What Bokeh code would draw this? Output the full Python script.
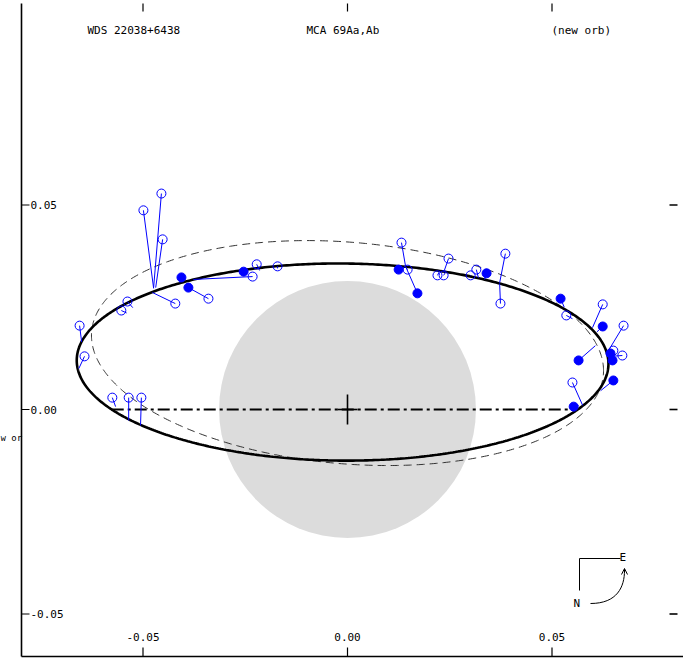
import numpy as np
from bokeh.plotting import figure
from bokeh.models import Range1d, Label, Arrow, OpenHead
from bokeh.core.properties import value
from bokeh.embed import file_html
from bokeh.resources import INLINE

# ---------------- data ----------------
title_left = "WDS 22038+6438"
title_mid = "MCA  69Aa,Ab"
title_right = "(new orb)"
side_text = "w or"

x_ticks = [-0.05, 0.00, 0.05]
x_tick_labels = ["-0.05", "0.00", "0.05"]
y_ticks = [0.05, 0.00, -0.05]
y_tick_labels = ["0.05", "0.00", "-0.05"]

# apparent ellipse of new orbit: centre, half-width, tilt term, half-height
new_orbit = dict(cx=-0.0012, cy=0.0116, xhalf=0.0650, q=-0.0004, yhalf=0.0241)
# apparent ellipse of previous orbit
old_orbit = dict(cx=0.0000, cy=0.0138, xhalf=0.0626, q=-0.0043, yhalf=0.0275)

resolution_radius = 0.0314

# open symbols: observed position and computed position
open_x = [-0.0655, -0.0643, -0.0575, -0.0535, -0.0504, -0.0455, -0.0499, -0.0452,
          -0.0421, -0.0340, -0.0538, -0.0553, -0.0232, -0.0222, -0.0171,
          0.0132, 0.0147, 0.0247, 0.0220, 0.0235, 0.0315, 0.0301, 0.0386, 0.0374,
          0.0535, 0.0624, 0.0675, 0.0650, 0.0672, 0.0550]
open_y = [0.0205, 0.0130, 0.0029, 0.0029, 0.0029, 0.0528, 0.0487, 0.0416,
          0.0259, 0.0271, 0.0264, 0.0242, 0.0325, 0.0355, 0.0350,
          0.0408, 0.0342, 0.0369, 0.0328, 0.0328, 0.0342, 0.0328, 0.0381, 0.0259,
          0.0230, 0.0257, 0.0205, 0.0144, 0.0132, 0.0066]
open_cx = [-0.0650, -0.0657, -0.0567, -0.0535, -0.0506, -0.0474, -0.0474, -0.0469,
           -0.0477, -0.0389, -0.0525, -0.0540, -0.0377, -0.0215, -0.0171,
           0.0142, 0.0142, 0.0235, 0.0225, 0.0240, 0.0320, 0.0300, 0.0372, 0.0372,
           0.0550, 0.0599, 0.0638, 0.0640, 0.0643, 0.0575]
open_cy = [0.0165, 0.0100, 0.0007, -0.0027, -0.0039, 0.0298, 0.0296, 0.0298,
           0.0286, 0.0298, 0.0249, 0.0236, 0.0318, 0.0340, 0.0345,
           0.0350, 0.0348, 0.0335, 0.0338, 0.0336, 0.0322, 0.0326, 0.0310, 0.0308,
           0.0222, 0.0200, 0.0144, 0.0140, 0.0130, 0.0010]

# filled symbols: observed position and computed position
fill_x = [-0.0406, -0.0389, -0.0254, 0.0171, 0.0125, 0.0340, 0.0521, 0.0624,
          0.0565, 0.0643, 0.0648, 0.0650, 0.0553]
fill_y = [0.0323, 0.0298, 0.0337, 0.0284, 0.0342, 0.0333, 0.0271, 0.0203,
          0.0120, 0.0137, 0.0120, 0.0071, 0.0007]
fill_cx = [-0.0410, -0.0395, -0.0254, 0.0142, 0.0128, 0.0335, 0.0530, 0.0610,
           0.0606, 0.0645, 0.0645, 0.0619, 0.0565]
fill_cy = [0.0310, 0.0305, 0.0336, 0.0350, 0.0351, 0.0318, 0.0250, 0.0190,
           0.0156, 0.0125, 0.0110, 0.0046, 0.0010]

# ---------------- layout ----------------
PX = 4090.0            # pixels per arcsec
W, H = 683, 659
OX, OY = 347, 409      # pixel position of the origin
x0 = -OX / PX
x1 = x0 + W / PX
y1 = OY / PX
y0 = y1 - H / PX

p = figure(width=W, height=H, x_range=Range1d(x0, x1), y_range=Range1d(y0, y1),
           x_axis_type=None, y_axis_type=None, output_backend="svg",
           toolbar_location=None, min_border_left=0, min_border_right=0,
           min_border_top=0, min_border_bottom=0)
p.grid.visible = False
p.outline_line_color = None
p.background_fill_color = "white"
p.border_fill_color = "white"

FONT = value("DejaVu Sans Mono")
FS = "11px"


def px_x(v):
    return (v - OX) / PX


def px_y(v):
    return (OY - v) / PX


def ellipse(e, n=600):
    t = np.linspace(0, 2 * np.pi, n)
    r = np.sqrt(e["yhalf"] ** 2 - e["q"] ** 2)
    return (e["cx"] + e["xhalf"] * np.cos(t),
            e["cy"] + e["q"] * np.cos(t) + r * np.sin(t))


# resolution disk
p.circle(x=[0], y=[0], radius=resolution_radius, fill_color="#dcdcdc",
         line_color=None)

# old orbit (dashed)
ox, oy = ellipse(old_orbit)
p.line(ox, oy, line_color="#333333", line_width=1, line_dash="8 5")

# new orbit (solid)
nx, ny = ellipse(new_orbit)
p.line(nx, ny, line_color="black", line_width=2.6)

# line of nodes: intersections of new orbit with y = 0
idx = np.where(np.diff(np.sign(ny)) != 0)[0]
nodes = []
for i in idx:
    f = ny[i] / (ny[i] - ny[i + 1])
    nodes.append(nx[i] + f * (nx[i + 1] - nx[i]))
p.line([min(nodes), max(nodes)], [0, 0], line_color="black", line_width=2,
       line_dash="12 4 3 4")

# primary cross
p.segment(x0=[-10 / PX, 0], y0=[0, -15 / PX], x1=[10 / PX, 0], y1=[0, 15 / PX],
          line_color="black", line_width=1.6)

# O-C lines
p.segment(x0=open_x, y0=open_y, x1=open_cx, y1=open_cy, line_color="blue",
          line_width=1)
p.segment(x0=fill_x, y0=fill_y, x1=fill_cx, y1=fill_cy, line_color="blue",
          line_width=1)

# observations
p.scatter(open_x, open_y, marker="circle", size=9, fill_color=None,
          line_color="blue", line_width=1)
p.scatter(fill_x, fill_y, marker="circle", size=9, fill_color="blue",
          line_color="blue", line_width=1)

# frame lines (left and bottom)
xl = px_x(21)
yb = px_y(656)
yt = px_y(3)
xr = px_x(677)
p.segment(x0=[xl, xl], y0=[yb, yb], x1=[xl, x1], y1=[yt, yb], line_color="black",
          line_width=1.6)

# ticks
tk = 8 / PX
p.segment(x0=x_ticks, y0=[yb] * 3, x1=x_ticks, y1=[yb + tk + 1 / PX] * 3,
          line_color="black", line_width=1.2)
p.segment(x0=x_ticks, y0=[yt] * 3, x1=x_ticks, y1=[yt - tk] * 3,
          line_color="black", line_width=1.2)
p.segment(x0=[xl] * 3, y0=y_ticks, x1=[xl + tk] * 3, y1=y_ticks,
          line_color="black", line_width=1.2)
p.segment(x0=[xr] * 3, y0=y_ticks, x1=[xr - tk] * 3, y1=y_ticks,
          line_color="black", line_width=1.6)

# tick labels
p.text(x=[xl] * 3, y=y_ticks, text=y_tick_labels, x_offset=9,
       text_baseline="middle", text_align="left", text_font=FONT,
       text_font_size=FS, text_color="black")
p.text(x=x_ticks, y=[px_y(636)] * 3, text=x_tick_labels,
       text_baseline="middle", text_align="center", text_font=FONT,
       text_font_size=FS, text_color="black")

# header
hy = px_y(30)
p.text(x=[px_x(87), px_x(306), px_x(551)], y=[hy] * 3,
       text=[title_left, title_mid, title_right], text_font=FONT,
       text_font_size=FS, text_baseline="middle", text_align="left",
       text_color="black")

# partial axis title at far left
p.text(x=[px_x(0)], y=[px_y(437)], text=[side_text], text_font=FONT,
       text_font_size="9px", text_baseline="middle", text_align="left",
       text_color="black")

# compass N / E
cx_, cy_ = px_x(579), px_y(558)
p.line([cx_ + 41 / PX, cx_, cx_], [cy_, cy_, cy_ - 32 / PX], line_color="black",
       line_width=1)
p.text(x=[cx_ + 40 / PX], y=[cy_ + 1 / PX], text=["E"], text_font=FONT,
       text_font_size=FS, text_baseline="middle", text_align="left",
       text_color="black")
p.text(x=[cx_ - 6 / PX], y=[cy_ - 45 / PX], text=["N"], text_font=FONT,
       text_font_size=FS, text_baseline="middle", text_align="left",
       text_color="black")
p.bezier(x0=[cx_ + 11 / PX], y0=[cy_ - 45 / PX], x1=[cx_ + 45 / PX],
         y1=[cy_ - 12 / PX], cx0=[cx_ + 38 / PX], cy0=[cy_ - 45 / PX],
         cx1=[cx_ + 45 / PX], cy1=[cy_ - 28 / PX], line_color="black",
         line_width=1)
p.add_layout(Arrow(end=OpenHead(size=6, line_width=1), x_start=cx_ + 45 / PX,
                   y_start=cy_ - 14 / PX, x_end=cx_ + 45 / PX,
                   y_end=cy_ - 10 / PX, line_width=1))

open("out.html", "w").write(file_html(p, INLINE))
